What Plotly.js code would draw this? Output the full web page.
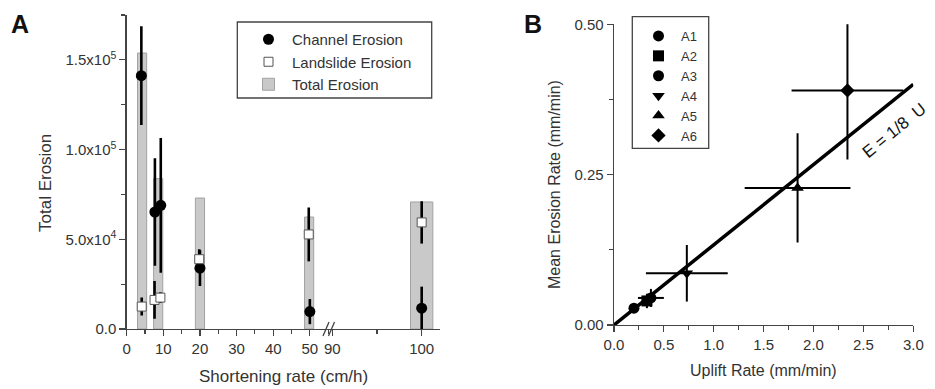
<!DOCTYPE html>
<html><head><meta charset="utf-8">
<script src="https://cdn.plot.ly/plotly-3.0.1.min.js"></script>
<style>html,body{margin:0;padding:0;background:#fff}#chart{width:935px;height:389px}</style>
</head><body><div id="chart"></div>
<script>
// ---------- Panel A data ----------
const totalX = [4.2, 8.6, 20, 49.8, 100];
const totalE = [153800, 83800, 73000, 62400, 70800];
const channelX = [4.0, 7.7, 9.3, 20, 50, 100];
const channelE = [141200, 65200, 68900, 33900, 9700, 11600];
const channelErrPlus = [27500, 30000, 37500, 10000, 7000, 12000];
const channelErrMinus = [27500, 30000, 37500, 10000, 7000, 16000];
const landslideX = [4.1, 7.6, 9.2, 19.8, 49.7, 100];
const landslideE = [12500, 16200, 17500, 38900, 52700, 59400];
const landslideErr = [5000, 10500, 3000, 5500, 15000, 11800];
const yTickVals = [0, 50000, 100000, 150000];
const yTickText = ['0.0', '5.0x10<sup>4</sup>', '1.0x10<sup>5</sup>', '1.5x10<sup>5</sup>'];
const yMinorVals = [25000, 75000, 125000, 175000];
const xTickValsLeft = [0, 10, 20, 30, 40, 50];
const xTickValsRight = [90, 100];

// ---------- Panel B data ----------
const runNames = ['A1', 'A2', 'A3', 'A4', 'A5', 'A6'];
const runSymbols = ['circle', 'square', 'circle', 'triangle-down', 'triangle-up', 'diamond'];
const upliftRate = [0.20, 0.33, 0.37, 0.73, 1.84, 2.34];
const upliftErr = [0.04, 0.05, 0.13, 0.41, 0.53, 0.56];
const erosionRate = [0.028, 0.040, 0.045, 0.086, 0.228, 0.390];
const erosionErr = [0.008, 0.012, 0.015, 0.047, 0.091, 0.115];
const fitU = [0, 3];
const fitE = [0, 0.4];

// ---------- helpers ----------
const W = 935, H = 389;
const PX = p => p / W;
const PY = p => 1 - p / H;
const FONT = 'Liberation Sans, Arial, Helvetica, sans-serif';
const TXT = '#333333';
const AXC = '#444444';
const BREAK = 70;
function split(arrX, ...others) {
  const L = {x: [], o: others.map(() => [])}, R = {x: [], o: others.map(() => [])};
  arrX.forEach((v, i) => {
    const t = v < BREAK ? L : R;
    t.x.push(v);
    others.forEach((a, k) => t.o[k].push(a[i]));
  });
  return [L, R];
}

const traces = [];
const [chL, chR] = split(channelX, channelE, channelErrPlus, channelErrMinus);
const [lsL, lsR] = split(landslideX, landslideE, landslideErr);
const [toL, toR] = split(totalX, totalE);

[[chL, 'x', true], [chR, 'x2', false]].forEach(([d, xa, sl]) => {
  traces.push({
    type: 'scatter', mode: 'markers', x: d.x, y: d.o[0], xaxis: xa, yaxis: 'y',
    name: 'Channel Erosion', legend: 'legend', legendgroup: 'ch', showlegend: sl, legendrank: 1,
    cliponaxis: false,
    marker: {symbol: 'circle', size: 11, color: '#000'},
    error_y: {type: 'data', symmetric: false, array: d.o[1], arrayminus: d.o[2], color: '#000', thickness: 2.6, width: 0}
  });
});
[[lsL, 'x', true], [lsR, 'x2', false]].forEach(([d, xa, sl]) => {
  traces.push({
    type: 'scatter', mode: 'markers', x: d.x, y: d.o[0], xaxis: xa, yaxis: 'y',
    name: 'Landslide Erosion', legend: 'legend', legendgroup: 'ls', showlegend: sl, legendrank: 2,
    cliponaxis: false,
    marker: {symbol: 'square', size: 9, color: '#fff', line: {color: '#555', width: 1}},
    error_y: {type: 'data', array: d.o[1], color: '#000', thickness: 2.6, width: 0}
  });
});
[[toL, 'x', true], [toR, 'x2', false]].forEach(([d, xa, sl]) => {
  traces.push({
    type: 'bar', x: d.x, y: d.o[0], xaxis: xa, yaxis: 'y', width: 2.5,
    name: 'Total Erosion', legend: 'legend', legendgroup: 'to', showlegend: sl, legendrank: 3,
    marker: {color: '#c9c9c9', line: {color: '#a2a2a2', width: 1}}
  });
});

// Panel B
traces.push({
  type: 'scatter', mode: 'lines', x: fitU, y: fitE, xaxis: 'x3', yaxis: 'y2',
  showlegend: false, line: {color: '#000', width: 3.5}, cliponaxis: false
});
runNames.forEach((nm, i) => {
  traces.push({
    type: 'scatter', mode: 'markers', x: [upliftRate[i]], y: [erosionRate[i]], xaxis: 'x3', yaxis: 'y2',
    name: nm, legend: 'legend2', cliponaxis: false,
    marker: {symbol: runSymbols[i], size: 11, color: '#000'},
    error_x: {type: 'data', array: [upliftErr[i]], color: '#000', thickness: 2, width: 0},
    error_y: {type: 'data', array: [erosionErr[i]], color: '#000', thickness: 2, width: 0}
  });
});

const tickFont = {family: FONT, size: 15, color: TXT};
const baseAxis = {
  showline: true, linecolor: AXC, linewidth: 1.3, showgrid: false, zeroline: false,
  ticks: 'outside', ticklen: 6, tickwidth: 1.2, tickcolor: AXC, tickfont: tickFont, fixedrange: true
};

const layout = {
  width: W, height: H, margin: {l: 0, r: 0, t: 0, b: 0},
  paper_bgcolor: '#fff', plot_bgcolor: 'rgba(0,0,0,0)',
  font: {family: FONT, color: TXT},
  barmode: 'overlay',
  xaxis: Object.assign({}, baseAxis, {
    domain: [PX(126.7), PX(330)], range: [0, 55.5], anchor: 'y',
    tickmode: 'array', tickvals: xTickValsLeft,
    minor: {tickmode: 'linear', tick0: 5, dtick: 10, ticks: 'outside', ticklen: 4, tickcolor: AXC, tickwidth: 1.1}
  }),
  xaxis2: Object.assign({}, baseAxis, {
    domain: [PX(330), PX(440)], range: [89.74, 102.05], anchor: 'y',
    tickmode: 'array', tickvals: xTickValsRight,
    minor: {tickmode: 'linear', tick0: 95, dtick: 10, ticks: 'outside', ticklen: 4, tickcolor: AXC, tickwidth: 1.1}
  }),
  yaxis: Object.assign({}, baseAxis, {
    domain: [PY(329), PY(15)], range: [0, 175000], anchor: 'x',
    tickmode: 'array', tickvals: yTickVals, ticktext: yTickText,
    minor: {tickmode: 'array', tickvals: yMinorVals, ticks: 'outside', ticklen: 4, tickcolor: AXC, tickwidth: 1.1}
  }),
  xaxis3: Object.assign({}, baseAxis, {
    domain: [PX(614), PX(913.3)], range: [0, 3], anchor: 'y2',
    tickmode: 'linear', tick0: 0, dtick: 0.5, tickformat: '.1f',
    minor: {tickmode: 'linear', tick0: 0.25, dtick: 0.5, ticks: 'outside', ticklen: 4, tickcolor: AXC, tickwidth: 1.1}
  }),
  yaxis2: Object.assign({}, baseAxis, {
    domain: [PY(325), PY(24.3)], range: [0, 0.5], anchor: 'x3',
    tickmode: 'linear', tick0: 0, dtick: 0.25, tickformat: '.2f',
    minor: {tickmode: 'linear', tick0: 0.125, dtick: 0.25, ticks: 'outside', ticklen: 4, tickcolor: AXC, tickwidth: 1.1}
  }),
  legend: {
    x: PX(245), y: PY(23), xanchor: 'left', yanchor: 'top',
    bgcolor: 'rgba(0,0,0,0)', borderwidth: 0, itemwidth: 37,
    font: {family: FONT, size: 15, color: TXT}, traceorder: 'normal'
  },
  legend2: {
    x: PX(636), y: PY(21), xanchor: 'left', yanchor: 'top',
    bgcolor: 'rgba(0,0,0,0)', borderwidth: 0, itemwidth: 35,
    font: {family: FONT, size: 13, color: TXT}, traceorder: 'normal'
  },
  shapes: [
    // legend boxes
    {type: 'rect', xref: 'paper', yref: 'paper', x0: PX(237.3), x1: PX(431.7), y0: PY(98), y1: PY(22), line: {color: AXC, width: 1.3}},
    {type: 'rect', xref: 'paper', yref: 'paper', x0: PX(632.3), x1: PX(708.7), y0: PY(148.3), y1: PY(16.7), line: {color: AXC, width: 1.3}},
    // axis break marks
    {type: 'line', xref: 'paper', yref: 'paper', x0: PX(323), y0: PY(336), x1: PX(329), y1: PY(322), line: {color: AXC, width: 1.3}},
    {type: 'line', xref: 'paper', yref: 'paper', x0: PX(328.5), y0: PY(336), x1: PX(334.5), y1: PY(322), line: {color: AXC, width: 1.3}}
  ],
  annotations: [
    {text: '<b>A</b>', xref: 'paper', yref: 'paper', x: PX(20), y: PY(24), xanchor: 'center', yanchor: 'middle', showarrow: false, font: {family: FONT, size: 25, color: '#111'}},
    {text: '<b>B</b>', xref: 'paper', yref: 'paper', x: PX(533), y: PY(24), xanchor: 'center', yanchor: 'middle', showarrow: false, font: {family: FONT, size: 25, color: '#111'}},
    {text: 'Total Erosion', xref: 'paper', yref: 'paper', x: PX(45), y: PY(183), xanchor: 'center', yanchor: 'middle', textangle: -90, showarrow: false, font: {family: FONT, size: 17, color: TXT}},
    {text: 'Shortening rate (cm/h)', xref: 'paper', yref: 'paper', x: PX(283.3), y: PY(376.7), xanchor: 'center', yanchor: 'middle', showarrow: false, font: {family: FONT, size: 17, color: TXT}},
    {text: 'Mean Erosion Rate (mm/min)', xref: 'paper', yref: 'paper', x: PX(555), y: PY(185), xanchor: 'center', yanchor: 'middle', textangle: -90, showarrow: false, font: {family: FONT, size: 16, color: TXT}},
    {text: 'Uplift Rate (mm/min)', xref: 'paper', yref: 'paper', x: PX(763.5), y: PY(370.7), xanchor: 'center', yanchor: 'middle', showarrow: false, font: {family: FONT, size: 16, color: TXT}},
    {text: 'E = 1/8\u00a0\u00a0U', xref: 'x3', yref: 'y2', x: 2.81, y: 0.324, xanchor: 'center', yanchor: 'middle', textangle: -39, showarrow: false, font: {family: FONT, size: 17, color: '#111'}}
  ]
};

Plotly.newPlot('chart', traces, layout, {displayModeBar: false, staticPlot: true});
</script>
</body></html>
